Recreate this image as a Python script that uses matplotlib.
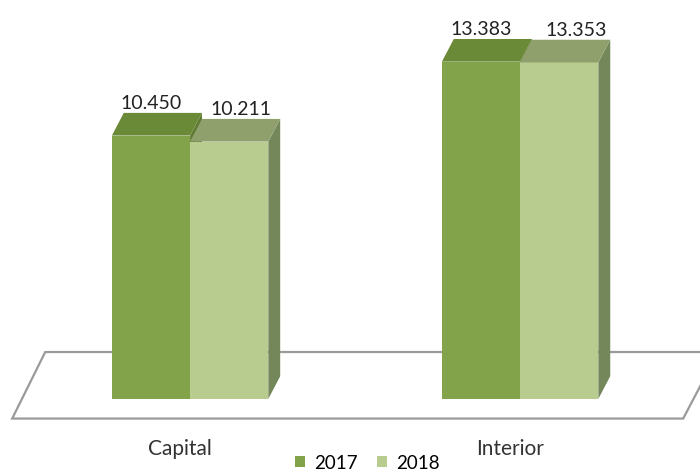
import matplotlib
matplotlib.use("Agg")
import matplotlib.pyplot as plt
from matplotlib.patches import Polygon, Rectangle

# values per region and year
categories = ["Capital", "Interior"]
years = ["2017", "2018"]
values_2017 = [10.450, 13.383]
values_2018 = [10.211, 13.353]
value_labels_2017 = ["10.450", "13.383"]
value_labels_2018 = ["10.211", "13.353"]

# face colours: front, side, top
colors = {
    "2017": ("#82a34a", "#5f7a33", "#6b8a38"),
    "2018": ("#b9cc8f", "#74875a", "#8fa06c"),
}

BAR_W = 0.237      # width of one bar in category units
DX, DY = 0.036, 0.9  # depth offset of the 3d look
FONT = "Lato"

fig = plt.figure(figsize=(7.0, 4.77), dpi=100)
ax = fig.add_axes([0, 0, 1, 1])
ax.set_xlim(-0.576, 1.545)
ax.set_ylim(-3.06, 15.87)
ax.axis("off")

# floor plane
floor = Polygon([(-0.439, 1.86), (1.60, 1.86), (1.494, -0.78), (-0.539, -0.78)],
                closed=True, facecolor="white", edgecolor="#9a9a9a", lw=1.6, zorder=1)
ax.add_patch(floor)


def draw_bar(x0, h, front, side, top, z):
    x1 = x0 + BAR_W
    ax.add_patch(Polygon([(x1, 0), (x1 + DX, DY), (x1 + DX, h + DY), (x1, h)],
                         closed=True, facecolor=side, edgecolor="none", zorder=z))
    ax.add_patch(Rectangle((x0, 0), BAR_W, h, facecolor=front, edgecolor="none", zorder=z))
    ax.add_patch(Polygon([(x0, h), (x0 + DX, h + DY), (x1 + DX, h + DY), (x1, h)],
                         closed=True, facecolor=top, edgecolor="none", zorder=z))


label_shift_2017 = [0.0, 0.0]
label_shift_2018 = [0.036, 0.051]
for i, cat in enumerate(categories):
    draw_bar(i - BAR_W, values_2017[i], *colors["2017"], z=2)
    draw_bar(i, values_2018[i], *colors["2018"], z=3)
    ax.text(i - BAR_W / 2 + label_shift_2017[i], values_2017[i] + DY + 0.08,
            value_labels_2017[i], ha="center", va="bottom", fontsize=14,
            family=FONT, color="#222222", zorder=5)
    ax.text(i + BAR_W / 2 + label_shift_2018[i], values_2018[i] + DY + 0.08,
            value_labels_2018[i], ha="center", va="bottom", fontsize=14,
            family=FONT, color="#222222", zorder=5)
    ax.text(i - 0.032, -1.95, cat, ha="center", va="center", fontsize=15,
            family=FONT, color="#333333")

# legend
handles = [Rectangle((0, 0), 1, 1, facecolor=colors[y][0]) for y in years]
fig.legend(handles, years, loc="lower center", bbox_to_anchor=(0.525, -0.025), ncol=2,
           frameon=False, handlelength=0.55, handleheight=0.55, handletextpad=0.5,
           columnspacing=1.0, prop={"family": FONT, "size": 13.5})

fig.savefig("out.png", dpi=100)
